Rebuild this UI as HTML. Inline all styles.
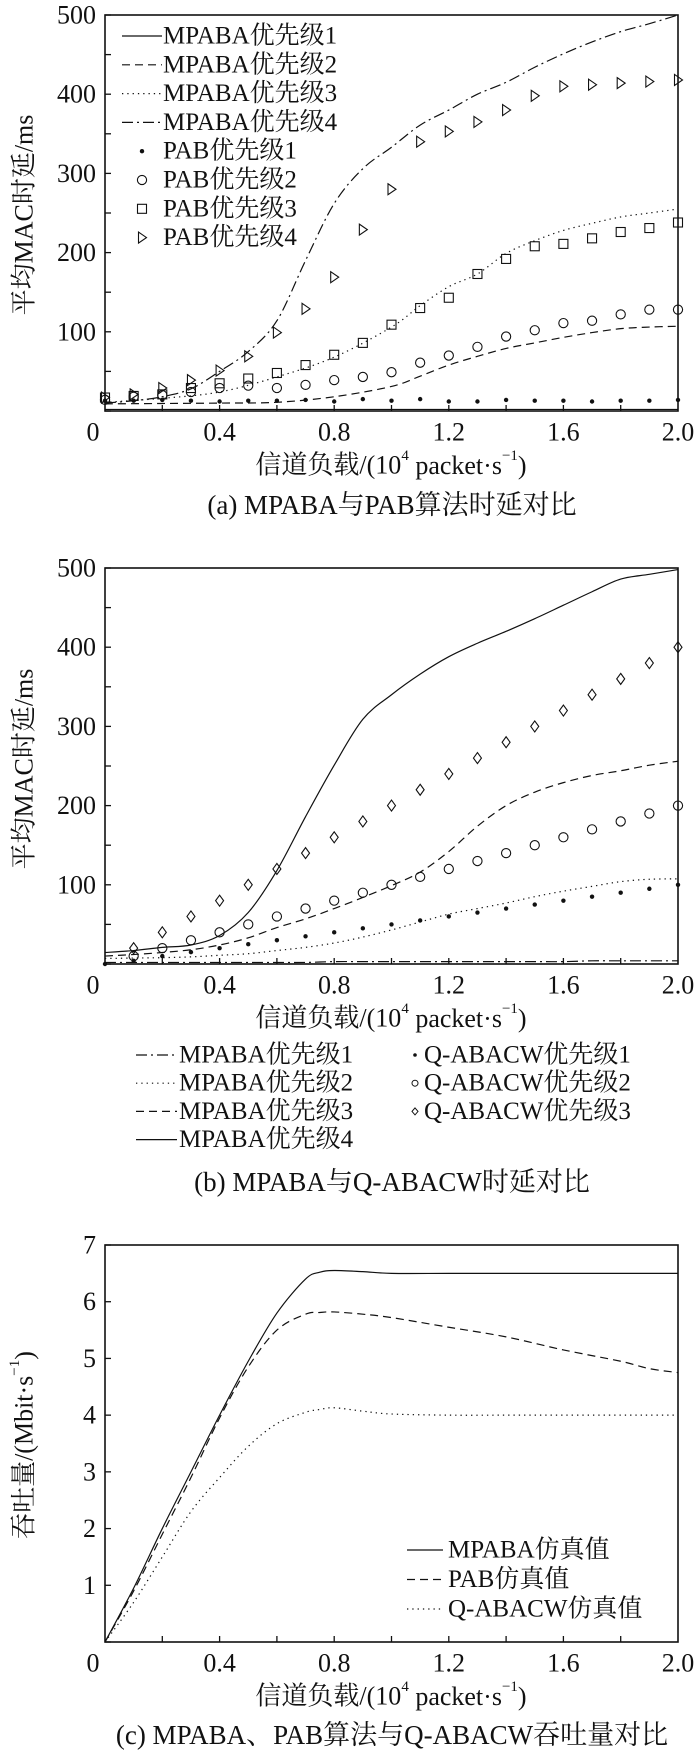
<!DOCTYPE html>
<html><head><meta charset="utf-8">
<style>
html,body{margin:0;padding:0;background:#fff;}
svg{display:block;}
text{font-family:"Liberation Serif","Noto Serif CJK SC",serif;fill:#111;}
</style></head>
<body>
<svg id="fig" width="700" height="1754" viewBox="0 0 700 1754" xmlns="http://www.w3.org/2000/svg"></svg>
<script>
// ---------- shared x grid ----------
const xs = [0,0.1,0.2,0.3,0.4,0.5,0.6,0.7,0.8,0.9,1.0,1.1,1.2,1.3,1.4,1.5,1.6,1.7,1.8,1.9,2.0];
const xTickLabels = ["0","0.4","0.8","1.2","1.6","2.0"];
const xTickVals = [0,0.4,0.8,1.2,1.6,2.0];
// ---------- chart a ----------
const aYTicks = [100,200,300,400,500];
const aPabP1 = [13,13,14,13,12,13,13,14,12,15,13,15,12,12,14,13,13,12,13,13,14];
const aPabP2 = [14,18,20,24,29,32,29,33,39,43,49,61,70,81,94,102,111,114,122,128,128];
const aPabP3 = [17,19,21,29,35,41,48,58,71,86,109,130,143,173,192,208,211,218,226,231,238];
const aPabP4 = [17,21,29,39,51,69,99,129,169,229,280,340,353,365,380,398,410,412,414,416,418];
const aMpX = [0,0.2,0.4,0.6,0.8,1.0,1.1,1.2,1.3,1.4,1.5,1.6,1.7,1.8,1.9,2.0];
const aMp1 = [2,2,2,2,2,2,2,2,2,2,2,2,2,2,2,2];
const aMp2 = [9,9.5,10,11,18,31,44,58,69,79,86,93,99,104,106,107];
const aMp3 = [11,16,24,43,68,106,133,157,173,199,215,228,237,245,250,255];
const aMp4X = [0,0.1,0.2,0.3,0.4,0.5,0.6,0.7,0.8,0.9,1.0,1.1,1.2,1.3,1.4,1.5,1.6,1.7,1.8,1.9,2.0];
const aMp4 = [10,13,18,28,50,75,114,190,262,306,333,361,380,400,415,434,451,466,479,489,500];
// ---------- chart b ----------
const bYTicks = [100,200,300,400,500];
const bQ1 = [0,4,10,15,20,25,30,35,40,45,50,55,60,65,70,75,80,85,90,95,100];
const bQ2 = [null,10,20,30,40,50,60,70,80,90,100,110,120,130,140,150,160,170,180,190,200];
const bQ3 = [null,20,40,60,80,100,120,140,160,180,200,220,240,260,280,300,320,340,360,380,400];
const bMp1 = [2,2,2,2,2,2,2,2,3,3,3,3,3,3,3,3,3,4,4,4,4];
const bMp2 = [7,7.5,8,9,11,13,17,21,26.5,34,43,53,63,70,77,85,92,98,104,107,107.5];
const bMp3 = [10,12,14.5,18,24,33,46,57,70,84,99,116,142,174,200,217,229,238,244,251,256];
const bMp4 = [14.5,17,21,24,36,65,118,186,251,309,340,366,388,405,420,436,453,470,486,492,498];
// ---------- chart c ----------
const cYTicks = [0,1,2,3,4,5,6,7];
const cX = [0,0.1,0.2,0.3,0.4,0.5,0.6,0.7,0.75,0.8,0.9,1.0,1.2,1.4,1.6,1.8,1.9,2.0];
const cMpaba = [0,0.95,2.0,3.0,4.0,4.95,5.8,6.4,6.52,6.55,6.53,6.5,6.5,6.5,6.5,6.5,6.5,6.5];
const cPab = [0,0.9,1.9,2.9,3.95,4.85,5.5,5.78,5.81,5.82,5.78,5.72,5.55,5.38,5.15,4.95,4.82,4.75];
const cQ = [0,0.7,1.5,2.3,2.9,3.45,3.85,4.05,4.1,4.13,4.07,4.02,4.0,4.0,4.0,4.0,4.0,4.0];

const FT = 26, FL = 25, FA = 26, FC = 27;
const NS = "http://www.w3.org/2000/svg";
const svg = document.getElementById('fig');
function mk(tag, attrs, parent){
  const e = document.createElementNS(NS, tag);
  for (const k in attrs) e.setAttribute(k, attrs[k]);
  (parent||svg).appendChild(e);
  return e;
}
function txt(s, x, y, size, anchor, parent){
  const t = mk('text', {x:x, y:y, 'font-size':size, 'text-anchor':anchor||'start', 'dominant-baseline':'central'}, parent);
  t.textContent = s;
  return t;
}
function smoothPath(pts){
  let d = 'M' + pts[0][0].toFixed(2) + ',' + pts[0][1].toFixed(2);
  for (let i=0;i<pts.length-1;i++){
    const p0 = pts[Math.max(0,i-1)], p1 = pts[i], p2 = pts[i+1], p3 = pts[Math.min(pts.length-1,i+2)];
    const c1x = p1[0] + (p2[0]-p0[0])/6, c1y = p1[1] + (p2[1]-p0[1])/6;
    const c2x = p2[0] - (p3[0]-p1[0])/6, c2y = p2[1] - (p3[1]-p1[1])/6;
    d += ' C' + c1x.toFixed(2)+','+c1y.toFixed(2)+' '+c2x.toFixed(2)+','+c2y.toFixed(2)+' '+p2[0].toFixed(2)+','+p2[1].toFixed(2);
  }
  return d;
}
const DASH = {solid:'', dash:'8,5', dot:'1.3,4', dashdot:'11,4,2,4'};
function marker(kind, x, y, g){
  let e;
  if (kind==='dot') e = mk('circle',{cx:x,cy:y,r:2.2,fill:'#111'},g);
  else if (kind==='circle') e = mk('circle',{cx:x,cy:y,r:4.6,fill:'none',stroke:'#111','stroke-width':1.1},g);
  else if (kind==='square') e = mk('rect',{x:x-4.5,y:y-4.5,width:9,height:9,fill:'none',stroke:'#111','stroke-width':1.1},g);
  else if (kind==='tri') e = mk('polygon',{points:(x-3.5)+','+(y-5.5)+' '+(x+4.5)+','+y+' '+(x-3.5)+','+(y+5.5),fill:'none',stroke:'#111','stroke-width':1.1},g);
  else if (kind==='diamond') e = mk('polygon',{points:x+','+(y-5.5)+' '+(x+4)+','+y+' '+x+','+(y+5.5)+' '+(x-4)+','+y,fill:'none',stroke:'#111','stroke-width':1.1},g);
  return e;
}

function makeChart(cfg){
  const g = mk('g',{});
  
  
  const L=105, R=678, T=cfg.top, B=cfg.bottom;
  const sx = v => L + (v/2.0)*(R-L);
  const sy = v => B - (v/cfg.ymax)*(B-T);
  cfg.lines.forEach(s=>{
    const pts = s.x.map((xv,i)=>[sx(xv), sy(s.y[i])]);
    const p = mk('path',{d:smoothPath(pts),fill:'none',stroke:'#111','stroke-width':1.2,'stroke-dasharray':DASH[s.style]},g);
    
    
  });
  cfg.scatters.forEach(s=>{
    const sg = mk('g',{},g);
    
    
    s.y.forEach((yv,i)=>{ if (yv===null) return; marker(s.kind, sx(xs[i]), sy(yv), sg); });
  });
  const f = mk('rect',{x:L,y:T,width:R-L,height:B-T,fill:'none',stroke:'#111','stroke-width':1.6},g);
  
  
  const yg = mk('g',{},g);
  
  
  for (let v=0; v<=cfg.ymax+1e-9; v+=cfg.minor){
    const y = sy(v);
    mk('line',{x1:L,x2:L+6,y1:y,y2:y,stroke:'#111','stroke-width':1.3},yg);
  }
  cfg.yTicks.forEach(v=>{
    const t = txt(String(v), 96, sy(v), FT, 'end', yg);
    
    
  });
  const xg = mk('g',{},g);
  
  
  for (let v=0.2; v<2.0-1e-9; v+=0.2){
    mk('line',{x1:sx(v),x2:sx(v),y1:B,y2:B-6,stroke:'#111','stroke-width':1.3},xg);
  }
  xTickVals.forEach((v,i)=>{
    const t = txt(xTickLabels[i], i===0 ? 93 : sx(v), B+21, FT, 'middle', xg);
    
    
  });
  const xt = mk('text',{x:391,y:B+54,'font-size':FA,'text-anchor':'middle','dominant-baseline':'central'},g);
  
  
  xt.innerHTML = '信道负载/(10<tspan font-size="15" dy="-9">4</tspan><tspan dy="9"> packet·s</tspan><tspan font-size="15" dy="-9">−1</tspan><tspan dy="9">)</tspan>';
  const yt = mk('text',{x:0,y:0,'font-size':FA,'text-anchor':'middle','dominant-baseline':'central',transform:'translate(24,'+cfg.ytitleY+') rotate(-90)'},g);
  
  
  yt.innerHTML = cfg.ytitle;
  const c = txt(cfg.caption, 392, cfg.captionY, FC, 'middle', g);
  
  
  return g;
}
function legendLine(style, x1, x2, y, g){
  mk('line',{x1:x1,x2:x2,y1:y,y2:y,stroke:'#111','stroke-width':1.2,'stroke-dasharray':DASH[style]},g);
}
function legendEntry(parent, name){
  const g = mk('g',{},parent);
  
  
  return g;
}

// ----- chart a -----
makeChart({name:'chart-a-delay', top:15, bottom:411, ymax:500, minor:50, yTicks:aYTicks,
  ytitle:'平均MAC时延/ms', ytitleY:215, caption:'(a) MPABA与PAB算法时延对比', captionY:505,
  lines:[
    {name:'mpaba-p1-line', x:aMpX, y:aMp1, style:'solid'},
    {name:'mpaba-p2-line', x:aMpX, y:aMp2, style:'dash'},
    {name:'mpaba-p3-line', x:aMpX, y:aMp3, style:'dot'},
    {name:'mpaba-p4-line', x:aMp4X, y:aMp4, style:'dashdot'}],
  scatters:[
    {name:'pab-p1-points', kind:'dot', y:aPabP1},
    {name:'pab-p2-points', kind:'circle', y:aPabP2},
    {name:'pab-p3-points', kind:'square', y:aPabP3},
    {name:'pab-p4-points', kind:'tri', y:aPabP4}]
});
const legA = mk('g',{});


[['solid','MPABA优先级1'],['dash','MPABA优先级2'],['dot','MPABA优先级3'],['dashdot','MPABA优先级4']].forEach((e,i)=>{
  const g = legendEntry(legA,'legend-entry');
  const y = 36 + i*28.8;
  legendLine(e[0],122,162,y,g);
  txt(e[1],163,y,FL,'start',g);
});
[['dot','PAB优先级1'],['circle','PAB优先级2'],['square','PAB优先级3'],['tri','PAB优先级4']].forEach((e,i)=>{
  const g = legendEntry(legA,'legend-entry');
  const y = 36 + (i+4)*28.8;
  marker(e[0],142,y,g);
  txt(e[1],163,y,FL,'start',g);
});

// ----- chart b -----
makeChart({name:'chart-b-delay', top:568, bottom:964, ymax:500, minor:50, yTicks:bYTicks,
  ytitle:'平均MAC时延/ms', ytitleY:769, caption:'(b) MPABA与Q-ABACW时延对比', captionY:1182,
  lines:[
    {name:'mpaba-p1-line', x:xs, y:bMp1, style:'dashdot'},
    {name:'mpaba-p2-line', x:xs, y:bMp2, style:'dot'},
    {name:'mpaba-p3-line', x:xs, y:bMp3, style:'dash'},
    {name:'mpaba-p4-line', x:xs, y:bMp4, style:'solid'}],
  scatters:[
    {name:'qabacw-p1-points', kind:'dot', y:bQ1},
    {name:'qabacw-p2-points', kind:'circle', y:bQ2},
    {name:'qabacw-p3-points', kind:'diamond', y:bQ3}]
});
const legB = mk('g',{});


[['dashdot','MPABA优先级1'],['dot','MPABA优先级2'],['dash','MPABA优先级3'],['solid','MPABA优先级4']].forEach((e,i)=>{
  const g = legendEntry(legB,'legend-entry');
  const y = 1055 + i*28.2;
  legendLine(e[0],136,177,y,g);
  txt(e[1],179,y,FL,'start',g);
});
[['dot','Q-ABACW优先级1'],['circle','Q-ABACW优先级2'],['diamond','Q-ABACW优先级3']].forEach((e,i)=>{
  const g = legendEntry(legB,'legend-entry');
  const y = 1055 + i*28.2;
  if (e[0]==='dot') mk('circle',{cx:415,cy:y,r:1.8,fill:'#111'},g);
  else if (e[0]==='circle') mk('circle',{cx:415,cy:y,r:3,fill:'none',stroke:'#111','stroke-width':1},g);
  else mk('polygon',{points:'415,'+(y-3.5)+' 418,'+y+' 415,'+(y+3.5)+' 412,'+y,fill:'none',stroke:'#111','stroke-width':1},g);
  txt(e[1],424,y,FL,'start',g);
});

// ----- chart c -----
makeChart({name:'chart-c-throughput', top:1245, bottom:1642, ymax:7, minor:1, yTicks:cYTicks.slice(1),
  ytitle:'吞吐量/(Mbit·s<tspan font-size="15" dy="-9">−1</tspan><tspan dy="9">)</tspan>', ytitleY:1445,
  caption:'(c) MPABA、PAB算法与Q-ABACW吞吐量对比', captionY:1735,
  lines:[
    {name:'mpaba-throughput-line', x:cX, y:cMpaba, style:'solid'},
    {name:'pab-throughput-line', x:cX, y:cPab, style:'dash'},
    {name:'qabacw-throughput-line', x:cX, y:cQ, style:'dot'}],
  scatters:[]
});
const legC = mk('g',{});


[['solid','MPABA仿真值'],['dash','PAB仿真值'],['dot','Q-ABACW仿真值']].forEach((e,i)=>{
  const g = legendEntry(legC,'legend-entry');
  const y = 1550 + i*29.5;
  legendLine(e[0],407,443,y,g);
  txt(e[1],448,y,FL,'start',g);
});
</script>
</body></html>
